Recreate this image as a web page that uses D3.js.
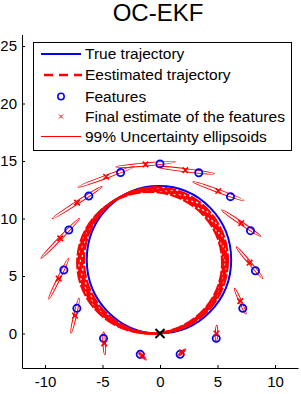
<!DOCTYPE html>
<html>
<meta charset="utf-8">
<style>
body { margin: 0; background: #fff; }
svg { display: block; font-family: 'Liberation Sans', Arial, sans-serif; }
.tick text { font-size: 15px; font-family: 'Liberation Sans', Arial, sans-serif; }
</style>
<body>
<svg width="301" height="394"></svg>
<script src="https://d3js.org/d3.v7.min.js"></script>
<script>

// true landmark positions (blue circles)
var featX = [1.75, 4.89, 7.2, 8.3, 7.87, 6.13, 3.37, 0, -3.43, -6.19, -7.93, -8.36, -7.23, -4.91, -1.72];
var featY = [-1.81, -0.42, 2.19, 5.46, 8.94, 11.9, 13.98, 14.75, 14.0, 11.96, 9.0, 5.52, 2.19, -0.42, -1.81];

// final estimates (red x) and their 99% ellipses
var estX = [1.9, 4.91, 6.98, 7.79, 7.06, 5.07, 2.2, -1.26, -4.68, -7.21, -8.68, -8.81, -7.39, -4.85, -1.56];
var estY = [-1.65, 0.0, 2.81, 6.16, 9.59, 12.39, 14.2, 14.7, 13.63, 11.38, 8.27, 4.77, 1.55, -0.85, -1.95];
var ellMajor = [0.45, 0.72, 1.23, 1.8, 2.05, 2.37, 2.56, 2.6, 2.6, 2.59, 2.41, 1.98, 1.56, 1.0, 0.5];
var ellMinor = [0.1, 0.1, 0.11, 0.12, 0.13, 0.13, 0.13, 0.13, 0.13, 0.13, 0.13, 0.12, 0.12, 0.11, 0.1];
var ellAngle = [42, 88, 114, 130, 146, 160, 173, 5, 20, 33, 46, 64, 77, 93, 135];

// trajectories: circle fits (cx, cy, rx, ry)
var trueTraj = {cx: -0.09, cy: 6.41, rx: 6.28, ry: 6.41};
var estLapCx = [-0.35, -0.5, -0.64, -0.78, -0.9];
var estLapCy = [6.36, 6.31, 6.26, 6.21, 6.16];
var estLapRx = [6.26, 6.27, 6.28, 6.29, 6.3];
var estLapRy = [6.36, 6.31, 6.26, 6.21, 6.16];

var xTicks = [-10, -5, 0, 5, 10];
var yTicks = [0, 5, 10, 15, 20, 25];

var legendLabels = ["True trajectory", "Eestimated trajectory", "Features",
    "Final estimate of the features", "99% Uncertainty ellipsoids"];

var svg = d3.select("svg"),
    margin = {top: 34.5, right: 3, bottom: 26, left: 22},
    width = +svg.attr("width") - margin.left - margin.right,
    height = +svg.attr("height") - margin.top - margin.bottom;

var x = d3.scaleLinear().domain([-12, 12]).range([margin.left, margin.left + width]),
    y = d3.scaleLinear().domain([-3, 26]).range([margin.top + height, margin.top]);

// title
svg.append("text")
    .attr("x", 158)
    .attr("y", 20.5)
    .attr("text-anchor", "middle")
    .style("font-size", "24px")
    .text("OC-EKF");

// axes (matlab style, ticks inside, no box)
svg.append("g")
    .attr("class", "axis axis--x")
    .attr("transform", "translate(0," + y(-3) + ")")
    .call(d3.axisBottom(x).tickValues(xTicks).tickSizeInner(-3).tickSizeOuter(0)
        .tickPadding(8.5).tickFormat(function(d) { return String(d); }));

svg.append("g")
    .attr("class", "axis axis--y")
    .attr("transform", "translate(" + x(-12) + ",0)")
    .call(d3.axisLeft(y).tickValues(yTicks).tickSizeInner(-3).tickSizeOuter(0)
        .tickPadding(5).tickFormat(function(d) { return String(d); }));

svg.selectAll(".axis text").attr("fill", "#000");
svg.selectAll(".axis path, .axis line").attr("stroke", "#000");

// true trajectory
svg.append("ellipse")
    .attr("cx", x(trueTraj.cx))
    .attr("cy", y(trueTraj.cy))
    .attr("rx", x(trueTraj.rx) - x(0))
    .attr("ry", y(0) - y(trueTraj.ry))
    .attr("fill", "none")
    .attr("stroke", "#0000ff")
    .attr("stroke-width", 2);

// estimated trajectory, several laps drifting
svg.selectAll(".lap")
    .data(estLapCx)
    .enter().append("ellipse")
    .attr("class", "lap")
    .attr("cx", function(d) { return x(d); })
    .attr("cy", function(d, i) { return y(estLapCy[i]); })
    .attr("rx", function(d, i) { return x(estLapRx[i]) - x(0); })
    .attr("ry", function(d, i) { return y(0) - y(estLapRy[i]); })
    .attr("fill", "none")
    .attr("stroke", "#ff0000")
    .attr("stroke-width", 2.2)
    .attr("stroke-dasharray", "12,2")
    .attr("stroke-dashoffset", function(d, i) { return i * 5; });

// uncertainty ellipses
svg.selectAll(".ell")
    .data(estX)
    .enter().append("ellipse")
    .attr("class", "ell")
    .attr("transform", function(d, i) {
        return "translate(" + x(d) + "," + y(estY[i]) + ") rotate(" + (-ellAngle[i]) + ")";
    })
    .attr("rx", function(d, i) { return x(ellMajor[i]) - x(0); })
    .attr("ry", function(d, i) { return x(ellMinor[i]) - x(0); })
    .attr("fill", "none")
    .attr("stroke", "#ff0000")
    .attr("stroke-width", 1);

// features
svg.selectAll(".feat")
    .data(featX)
    .enter().append("circle")
    .attr("class", "feat")
    .attr("cx", function(d) { return x(d); })
    .attr("cy", function(d, i) { return y(featY[i]); })
    .attr("r", 3.6)
    .attr("fill", "none")
    .attr("stroke", "#0000ff")
    .attr("stroke-width", 1.8);

// estimates
var cross = d3.symbol().type(d3.symbolX).size(22);
svg.selectAll(".est")
    .data(estX)
    .enter().append("path")
    .attr("class", "est")
    .attr("transform", function(d, i) { return "translate(" + x(d) + "," + y(estY[i]) + ")"; })
    .attr("d", cross)
    .attr("fill", "none")
    .attr("stroke", "#ff0000")
    .attr("stroke-width", 1.6);

// start position
svg.append("path")
    .attr("transform", "translate(" + x(0) + "," + y(0) + ")")
    .attr("d", d3.symbol().type(d3.symbolX).size(55))
    .attr("fill", "none")
    .attr("stroke", "#000")
    .attr("stroke-width", 2);

// legend
var legend = svg.append("g").attr("class", "legend");
legend.append("rect")
    .attr("x", 33.5).attr("y", 42.5)
    .attr("width", 258).attr("height", 108)
    .attr("fill", "#fff").attr("stroke", "#000").attr("stroke-width", 1);

var rowY = [54, 75, 96.5, 116.5, 136.5];
legend.selectAll(".ltext")
    .data(legendLabels)
    .enter().append("text")
    .attr("class", "ltext")
    .attr("x", 85)
    .attr("y", function(d, i) { return rowY[i]; })
    .attr("dy", "0.35em")
    .style("font-size", "15.5px")
    .text(function(d) { return d; });

legend.append("line").attr("x1", 41).attr("x2", 81).attr("y1", rowY[0]).attr("y2", rowY[0])
    .attr("stroke", "#0000ff").attr("stroke-width", 2);
legend.append("line").attr("x1", 44).attr("x2", 82).attr("y1", rowY[1]).attr("y2", rowY[1])
    .attr("stroke", "#ff0000").attr("stroke-width", 2.5).attr("stroke-dasharray", "9,6");
legend.append("circle").attr("cx", 61).attr("cy", rowY[2]).attr("r", 3.2)
    .attr("fill", "none").attr("stroke", "#0000ff").attr("stroke-width", 1.5);
legend.append("path").attr("transform", "translate(61," + rowY[3] + ")")
    .attr("d", d3.symbol().type(d3.symbolX).size(12))
    .attr("fill", "none").attr("stroke", "#ff0000").attr("stroke-width", 1);
legend.append("line").attr("x1", 41).attr("x2", 81).attr("y1", rowY[4]).attr("y2", rowY[4])
    .attr("stroke", "#ff0000").attr("stroke-width", 1);

</script>
</body>
</html>
